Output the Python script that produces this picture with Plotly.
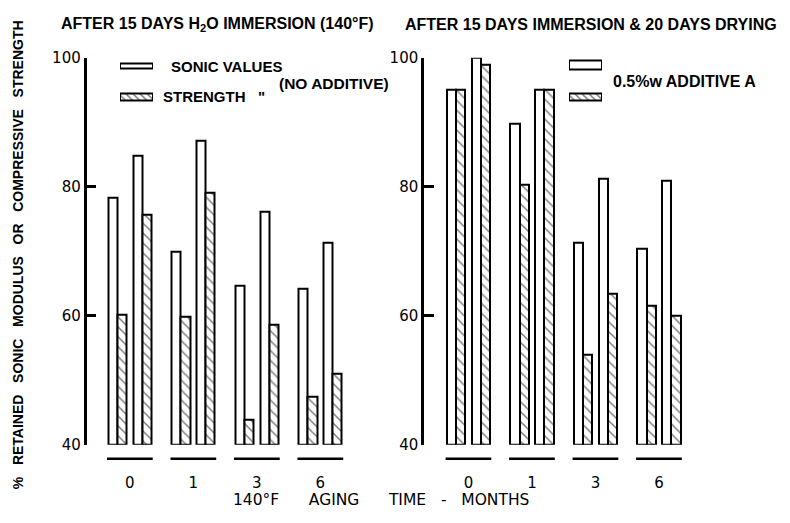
import plotly.graph_objects as go

# ---------------- data ----------------
months = ["0", "1", "3", "6"]
y_ticks = [40, 60, 80, 100]

# Left panel: after 15 days H2O immersion (140 F)
imm_sonic_none = [78.3, 70.0, 64.7, 64.2]
imm_strength_none = [60.1, 59.8, 43.9, 47.5]
imm_sonic_addA = [84.8, 87.2, 76.2, 71.3]
imm_strength_addA = [75.7, 79.1, 58.6, 51.0]

# Right panel: after 15 days immersion & 20 days drying
dry_sonic_none = [95.0, 89.7, 71.3, 70.4]
dry_strength_none = [95.0, 80.3, 54.0, 61.5]
dry_sonic_addA = [100.0, 95.0, 81.3, 81.0]
dry_strength_addA = [98.9, 95.0, 63.4, 60.0]

# ---------------- styling / layout ----------------
W, H = 790, 523
BASE = 40
BAR_W = 0.145
OFFSETS = [-0.34, -0.195, 0.05, 0.195]
TXT = "Liberation Sans, Arial, sans-serif"
LBL = "DejaVu Sans, sans-serif"
HATCH = dict(shape="\\", fgcolor="black", bgcolor="white", size=7, solidity=0.22)

def px_x(p):
    return p / W

def px_y(p):
    return (H - p) / H

fig = go.Figure()
xs = list(range(len(months)))

def add_panel(series, xa, ya):
    for vals, off, hatched in zip(series, OFFSETS, [False, True, False, True]):
        fig.add_trace(go.Bar(
            x=xs, y=[v - BASE for v in vals], base=BASE,
            customdata=vals, hovertemplate="%{customdata}<extra></extra>",
            width=BAR_W, offset=off, xaxis=xa, yaxis=ya,
            marker=dict(color="white", line=dict(color="black", width=2),
                        pattern=HATCH if hatched else dict(shape="")),
            cliponaxis=False, showlegend=False))

add_panel([imm_sonic_none, imm_strength_none, imm_sonic_addA, imm_strength_addA], "x", "y")
add_panel([dry_sonic_none, dry_strength_none, dry_sonic_addA, dry_strength_addA], "x2", "y2")

# legend swatches on hidden helper axes (y value = pixel row)
def swatch(xa, yc, h, hatched):
    fig.add_trace(go.Bar(
        x=[1], y=[yc], base=0, width=h, orientation="h", xaxis=xa, yaxis="y3",
        marker=dict(color="white", line=dict(color="black", width=2),
                    pattern=dict(shape="\\", fgcolor="black", bgcolor="white", size=5, solidity=0.3) if hatched else dict(shape="")),
        hoverinfo="skip", showlegend=False, cliponaxis=False))

swatch("x3", 59.3, 5.5, False)
swatch("x3", 91.0, 8.0, True)
swatch("x4", 58.0, 9.0, False)
swatch("x4", 91.0, 8.0, True)

ydom = [px_y(451.3), px_y(50.5)]
yaxis_common = dict(range=[40, 100], tickvals=y_ticks, ticktext=[str(t) for t in y_ticks],
                    showline=True, linecolor="black", linewidth=2.5,
                    ticks="inside", ticklen=10, tickwidth=2.5, tickcolor="black",
                    showgrid=False, zeroline=False, domain=ydom,
                    tickfont=dict(family=LBL, size=15, color="black"))
xaxis_common = dict(tickvals=xs, ticktext=months, showline=False, showgrid=False, zeroline=False,
                    ticks="outside", ticklen=24, tickcolor="rgba(0,0,0,0)",
                    tickfont=dict(family=LBL, size=15, color="black"))

fig.update_layout(
    width=W, height=H, margin=dict(l=0, r=0, t=0, b=0),
    paper_bgcolor="white", plot_bgcolor="rgba(0,0,0,0)",
    barmode="overlay", bargap=0,
    xaxis=dict(xaxis_common, range=[-0.683, 3.5], domain=[px_x(86.5), px_x(352.1)], anchor="y"),
    yaxis=dict(yaxis_common, anchor="x"),
    xaxis2=dict(xaxis_common, range=[-0.70, 3.5], domain=[px_x(424), px_x(690.7)], anchor="y2"),
    yaxis2=dict(yaxis_common, anchor="x2"),
    xaxis3=dict(range=[0, 1], domain=[px_x(120), px_x(153)], visible=False, anchor="y3"),
    xaxis4=dict(range=[0, 1], domain=[px_x(569), px_x(602)], visible=False, anchor="y3"),
    yaxis3=dict(range=[100, 45], domain=[px_y(100), px_y(45)], visible=False, anchor="x3"),
    showlegend=False,
)

# group underlines
for i in xs:
    for xr in ["x", "x2"]:
        fig.add_shape(type="line", xref=xr, yref="paper", x0=i - 0.36, x1=i + 0.36,
                      y0=px_y(465.7), y1=px_y(465.7), line=dict(color="black", width=2.5))

NB = "\u00a0"
def ann(text, x, y, size, family=TXT, bold=True, angle=0, xanchor="center"):
    fig.add_annotation(text=f"<b>{text}</b>" if bold else text, x=px_x(x), y=px_y(y),
                       xref="paper", yref="paper", showarrow=False, textangle=angle,
                       xanchor=xanchor, yanchor="middle",
                       font=dict(family=family, size=size, color="black"))

ann("AFTER 15 DAYS H<sub>2</sub>O IMMERSION (140°F)", 217, 16, 16)
ann("AFTER 15 DAYS IMMERSION &amp; 20 DAYS DRYING", 591, 16, 16)
ann("SONIC VALUES", 169, 60, 15, xanchor="left")
ann("STRENGTH" + NB * 3 + "\"", 161, 91, 15, xanchor="left")
ann("(NO ADDITIVE)", 277, 77, 15.5, xanchor="left")
ann("0.5%w ADDITIVE A", 611, 75, 16, xanchor="left")
sp = NB * 3
ann(sp.join(["%", "RETAINED", "SONIC", "MODULUS", "OR", "COMPRESSIVE", "STRENGTH"]), 18, 255, 14, angle=-90)
ann(("140°F" + NB * 6 + "AGING" + NB * 6 + "TIME" + NB * 3 + "-" + NB * 3 + "MONTHS"), 381, 509, 15.5, family=LBL, bold=False)

fig.write_html("out.html")
